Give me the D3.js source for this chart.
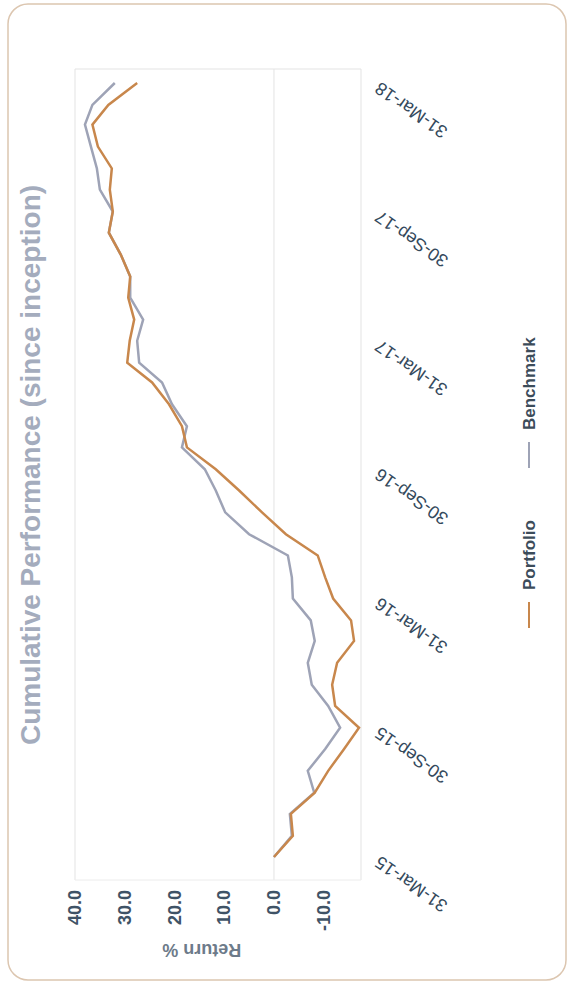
<!DOCTYPE html>
<html>
<head>
<meta charset="utf-8">
<script src="https://cdn.jsdelivr.net/npm/d3@7/dist/d3.min.js"></script>
<style>
  html, body { margin: 0; padding: 0; background: #ffffff; }
  svg { display: block; font-family: "Liberation Sans", Arial, sans-serif; }
</style>
</head>
<body>
<svg id="chart" width="571" height="988"></svg>
<script>
// ---- data ----
const title = "Cumulative Performance (since inception)";
const yAxisTitle = "Return %";
const seriesNames = ["Portfolio", "Benchmark"];
const seriesColors = ["#c8874c", "#9ea3b6"];

const dates = [
  "2015-03-31","2015-04-30","2015-05-31","2015-06-30","2015-07-31","2015-08-31","2015-09-30",
  "2015-10-31","2015-11-30","2015-12-31","2016-01-31","2016-02-29","2016-03-31",
  "2016-04-30","2016-05-31","2016-06-30","2016-07-31","2016-08-31","2016-09-30",
  "2016-10-31","2016-11-30","2016-12-31","2017-01-31","2017-02-28","2017-03-31",
  "2017-04-30","2017-05-31","2017-06-30","2017-07-31","2017-08-31","2017-09-30",
  "2017-10-31","2017-11-30","2017-12-31","2018-01-31","2018-02-28","2018-03-31"
];
const portfolio = [0, -3.8, -3.4, -8.2, -10.9, -14.1, -17.1, -12.3, -11.7, -12.7, -16.1, -15.5, -11.9,
  -10.3, -8.8, -2.4, 2.4, 7.0, 11.7, 17.5, 18.5, 21.1, 24.5, 29.5, 29.0,
  28.1, 29.3, 28.9, 30.8, 33.2, 32.4, 33.0, 32.6, 35.4, 36.5, 33.3, 27.5];
const benchmark = [0, -3.6, -3.2, -8.1, -6.8, -10.3, -13.3, -10.9, -7.6, -6.8, -8.2, -7.4, -3.8,
  -3.6, -2.8, 5.0, 9.8, 11.7, 13.9, 18.5, 17.5, 20.5, 22.5, 27.1, 27.5,
  26.3, 28.9, 28.9, 30.8, 33.2, 32.4, 35.0, 35.6, 36.8, 38.0, 36.5, 32.0];

const xTickDates = ["2015-03-31","2015-09-30","2016-03-31","2016-09-30","2017-03-31","2017-09-30","2018-03-31"];
const yTicks = [-10, 0, 10, 20, 30, 40];
const yGridValues = [40, 0];

// ---- layout (chart drawn in landscape, then turned a quarter turn) ----
const W = 988, H = 571;
const svg = d3.select("#chart");

// card
svg.append("rect")
  .attr("x", 8).attr("y", 4).attr("width", 558).attr("height", 976)
  .attr("rx", 20).attr("ry", 20)
  .attr("fill", "#ffffff").attr("stroke", "#dcc6b0").attr("stroke-width", 1.5);

const g = svg.append("g").attr("transform", `translate(0,${W}) rotate(-90)`);

const parse = d3.timeParse("%Y-%m-%d");
const fmt = d3.timeFormat("%d-%b-%y");
const x = d3.scaleTime()
  .domain([parse(dates[0]), parse(dates[dates.length - 1])])
  .range([131, 905]);
const y = d3.scaleLinear().domain([-17.5, 40]).range([361, 75]);

const plotLeft = 108, plotRight = 919;

// grid / frame
g.selectAll("line.grid").data(yGridValues).enter().append("line")
  .attr("x1", plotLeft).attr("x2", plotRight)
  .attr("y1", d => y(d)).attr("y2", d => y(d))
  .attr("stroke", "#e3e3e3").attr("stroke-width", 1);
g.append("line").attr("x1", plotLeft).attr("x2", plotRight)
  .attr("y1", y(-17.5)).attr("y2", y(-17.5)).attr("stroke", "#e3e3e3");
g.append("line").attr("x1", plotRight).attr("x2", plotRight)
  .attr("y1", y(40)).attr("y2", y(-17.5)).attr("stroke", "#e3e3e3");
g.append("line").attr("x1", plotLeft).attr("x2", plotLeft)
  .attr("y1", y(40)).attr("y2", y(-17.5)).attr("stroke", "#ececec");

// title
g.append("text").attr("x", 523).attr("y", 40)
  .attr("text-anchor", "middle")
  .attr("font-size", 28).attr("font-weight", "bold")
  .attr("fill", "#a4acbd").text(title);

// y axis labels
const f1 = d3.format(".1f");
const yAxis = d3.axisLeft(y).tickValues(yTicks)
  .tickFormat(d => f1(d).replace("\u2212", "-")).tickSize(0).tickPadding(0);
const yAxisG = g.append("g").attr("transform", "translate(98,0)").call(yAxis);
yAxisG.select(".domain").remove();
yAxisG.selectAll("text")
  .attr("font-size", 18).attr("font-weight", "bold")
  .attr("fill", "#3f5366").attr("font-family", "Liberation Sans, Arial, sans-serif");

g.append("text")
  .attr("transform", `translate(38,${y(14.5)}) rotate(-90)`)
  .attr("text-anchor", "middle").attr("dy", "0.35em")
  .attr("font-size", 18).attr("font-weight", "bold")
  .attr("fill", "#6d7b8a").text(yAxisTitle);

// x axis labels
const xAxis = d3.axisBottom(x).tickValues(xTickDates.map(parse)).tickFormat(fmt).tickSize(0).tickPadding(0);
const xAxisG = g.append("g").attr("transform", `translate(0,${y(-17.5)})`).call(xAxis);
xAxisG.select(".domain").remove();
xAxisG.selectAll("text")
  .attr("font-size", 18).attr("fill", "#34495c")
  .attr("font-family", "Liberation Sans, Arial, sans-serif")
  .attr("text-anchor", "end")
  .attr("dy", "0.35em")
  .attr("transform", "translate(-4,16) rotate(-55)");

// lines
const line = d3.line().x((d, i) => x(parse(dates[i]))).y(d => y(d));
g.append("path").datum(benchmark).attr("d", line)
  .attr("fill", "none").attr("stroke", seriesColors[1]).attr("stroke-width", 2.5);
g.append("path").datum(portfolio).attr("d", line)
  .attr("fill", "none").attr("stroke", seriesColors[0]).attr("stroke-width", 2.5);

// legend
const legendX = [360, 520];
const leg = g.selectAll("g.legend").data(seriesNames).enter().append("g")
  .attr("transform", (d, i) => `translate(${legendX[i]},529)`);
leg.append("line").attr("x1", 0).attr("x2", 26).attr("y1", 0).attr("y2", 0)
  .attr("stroke", (d, i) => seriesColors[i]).attr("stroke-width", 2);
leg.append("text").attr("x", 38).attr("dy", "0.35em")
  .attr("font-size", 17).attr("font-weight", "bold")
  .attr("fill", "#3c4c5a").text(d => d);
</script>
</body>
</html>
